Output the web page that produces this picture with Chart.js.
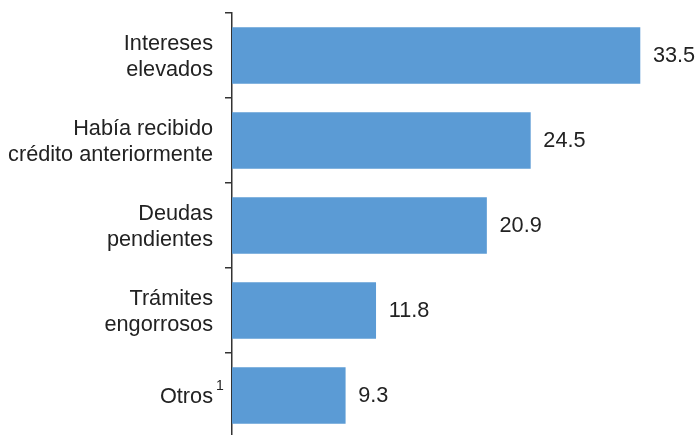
<!DOCTYPE html>
<html>
<head>
<meta charset="utf-8">
<script src="https://cdn.jsdelivr.net/npm/chart.js@4/dist/chart.umd.min.js"></script>
<style>
  html, body { margin: 0; padding: 0; background: #fff; overflow: hidden; }
</style>
</head>
<body>
<canvas id="bar-chart" width="697" height="440"></canvas>
<script>
let labels = [
    ['Intereses', 'elevados'],
    ['Había recibido', 'crédito anteriormente'],
    ['Deudas', 'pendientes'],
    ['Trámites', 'engorrosos'],
    'Otros'
];
let values = [33.5, 24.5, 20.9, 11.8, 9.3];
let footnotes = ['', '', '', '', '1'];

const fontFamily = '"Liberation Sans", Arial, sans-serif';

// writes the value just past the end of each bar, plus footnote marks on the labels
const valueLabels = {
    id: 'valueLabels',
    afterDatasetsDraw(chart) {
        let ctx = chart.ctx;
        let meta = chart.getDatasetMeta(0);
        let yScale = chart.scales.y;
        ctx.save();
        ctx.fillStyle = '#222';
        ctx.textBaseline = 'middle';
        meta.data.forEach((bar, i) => {
            ctx.font = '21.7px ' + fontFamily;
            ctx.textAlign = 'left';
            ctx.fillText(values[i].toFixed(1), bar.x + 13, bar.y + 1);
            if (footnotes[i]) {
                ctx.font = '14px ' + fontFamily;
                ctx.fillText(footnotes[i], yScale.right - 16, bar.y - 9);
            }
        });
        ctx.restore();
    }
};

let chart_ele = document.getElementById('bar-chart').getContext('2d');

var chart = new Chart(chart_ele, {
    type: 'bar',
    data: {
        labels: labels,
        datasets: [{
            data: values,
            backgroundColor: '#5b9bd5',
            borderWidth: 0,
            barThickness: 56
        }]
    },
    options: {
        indexAxis: 'y',
        responsive: false,
        animation: false,
        layout: {
            padding: { top: 13, bottom: 2, left: 0, right: 26.6 }
        },
        plugins: {
            legend: { display: false },
            tooltip: { enabled: false }
        },
        scales: {
            x: {
                display: false,
                min: 0,
                max: 36
            },
            y: {
                afterFit: s => {
                    s.width = 232;
                    s.paddingTop = 0;
                    s.paddingBottom = 0;
                },
                border: { color: '#333', width: 1.5 },
                grid: {
                    offset: true,
                    drawOnChartArea: false,
                    color: '#333',
                    lineWidth: 1.5,
                    tickLength: 7
                },
                ticks: {
                    padding: 12,
                    labelOffset: 1.5,
                    color: '#222',
                    font: { family: fontFamily, size: 21.7, lineHeight: 1.2 }
                }
            }
        }
    },
    plugins: [valueLabels]
});
</script>
</body>
</html>
